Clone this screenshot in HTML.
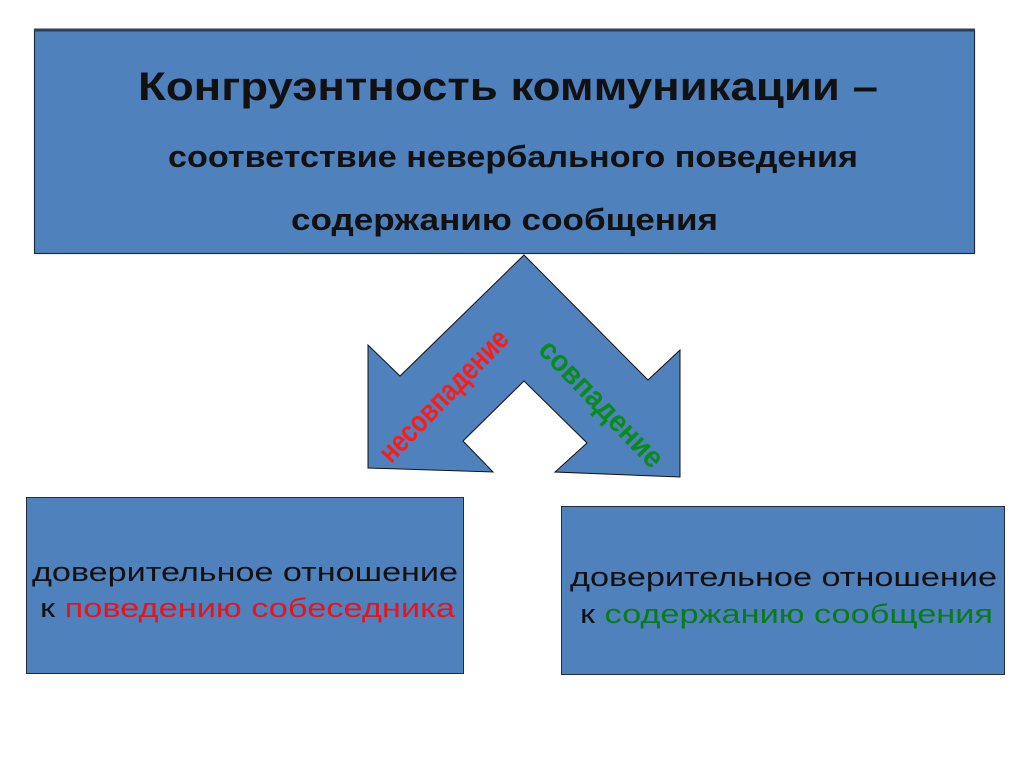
<!DOCTYPE html>
<html><head><meta charset="utf-8"><style>
body{margin:0;width:1024px;height:767px;background:#fff;overflow:hidden;position:relative}
</style></head><body>
<svg width="1024" height="767" style="position:absolute;left:0;top:0" font-family="Liberation Sans, Arial, sans-serif">
<rect x="34.5" y="30" width="940" height="223.5" fill="#4f81bd" stroke="#1f2d3f" stroke-width="1.2"/>
<line x1="34" y1="30" x2="975" y2="30" stroke="#2f3f55" stroke-width="3"/>
<text x="138" y="100" font-size="40" font-weight="bold" fill="#111" textLength="740" lengthAdjust="spacingAndGlyphs">Конгруэнтность коммуникации –</text>
<text x="168" y="167" font-size="31" font-weight="bold" fill="#111" textLength="690" lengthAdjust="spacingAndGlyphs">соответствие невербального поведения</text>
<text x="291" y="230" font-size="31" font-weight="bold" fill="#111" textLength="427" lengthAdjust="spacingAndGlyphs">содержанию сообщения</text>
<polygon points="524,255 648,380 680,350 680,477 555,472 587,443 524,381 463,441 493,472 368,468 368,345 400,376" fill="#4f81bd" stroke="#111" stroke-width="1"/>
<text transform="translate(445,397) rotate(-46)" text-anchor="middle" font-weight="bold" font-size="30" fill="#ff1a1a" dominant-baseline="middle" textLength="172" lengthAdjust="spacingAndGlyphs">несовпадение</text>
<text transform="translate(600,405) rotate(46)" text-anchor="middle" font-weight="bold" font-size="30" fill="#0a8a1a" dominant-baseline="middle" textLength="165" lengthAdjust="spacingAndGlyphs">совпадение</text>
<rect x="26.5" y="497.5" width="437" height="176" fill="#4f81bd" stroke="#1f2d3f" stroke-width="1"/>
<text x="32" y="581" font-size="27" fill="#111" textLength="426" lengthAdjust="spacingAndGlyphs">доверительное отношение</text>
<text x="40" y="617" font-size="27" fill="#111" textLength="415" lengthAdjust="spacingAndGlyphs">к <tspan fill="#e8141c">поведению собеседника</tspan></text>
<rect x="561.5" y="506.5" width="443" height="168" fill="#4f81bd" stroke="#1f2d3f" stroke-width="1"/>
<text x="570" y="586" font-size="27" fill="#111" textLength="427" lengthAdjust="spacingAndGlyphs">доверительное отношение</text>
<text x="580" y="623" font-size="27" fill="#111" textLength="413" lengthAdjust="spacingAndGlyphs">к <tspan fill="#0a7a1a">содержанию сообщения</tspan></text>
</svg>
</body></html>
